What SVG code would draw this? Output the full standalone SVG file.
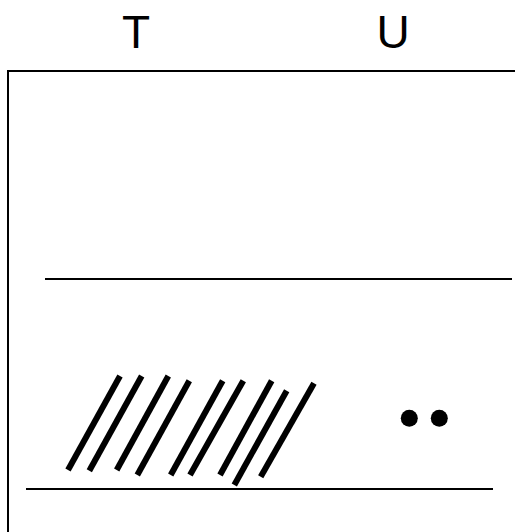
<svg xmlns="http://www.w3.org/2000/svg" width="515" height="532" viewBox="0 0 515 532">
<style>
.ln{stroke:#000;stroke-width:2;fill:none}
.h{stroke:#000;stroke-width:6;stroke-linecap:butt}
.lbl{font-family:"Liberation Sans",Arial,sans-serif;font-size:46px;fill:#000;text-anchor:middle}
</style>
<rect width="515" height="532" fill="#fff"/>
<g id="labels">
<text class="lbl" x="136" y="48">T</text>
<text class="lbl" x="393" y="48">U</text>
</g>
<g id="frame">
<path class="ln" d="M8,532 V71 H515"/>
<line class="ln" x1="45" y1="279" x2="512" y2="279"/>
<line class="ln" x1="26" y1="489" x2="493" y2="489"/>
</g>
<g id="hatch">
<line class="h" x1="120" y1="376" x2="68" y2="470"/>
<line class="h" x1="141.7" y1="376" x2="89.3" y2="470.7"/>
<line class="h" x1="168.3" y1="376" x2="116.7" y2="470"/>
<line class="h" x1="189.3" y1="380.7" x2="137.3" y2="475"/>
<line class="h" x1="222.7" y1="380.7" x2="170.7" y2="475"/>
<line class="h" x1="243.3" y1="380.7" x2="190" y2="475"/>
<line class="h" x1="271.7" y1="380.7" x2="220" y2="475"/>
<line class="h" x1="286.7" y1="390.7" x2="234.3" y2="485"/>
<line class="h" x1="314" y1="383.3" x2="260.7" y2="476.7"/>
</g>
<g id="dots">
<circle cx="409.3" cy="418.3" r="8.5"/>
<circle cx="439.3" cy="418.3" r="8.5"/>
</g>
</svg>
